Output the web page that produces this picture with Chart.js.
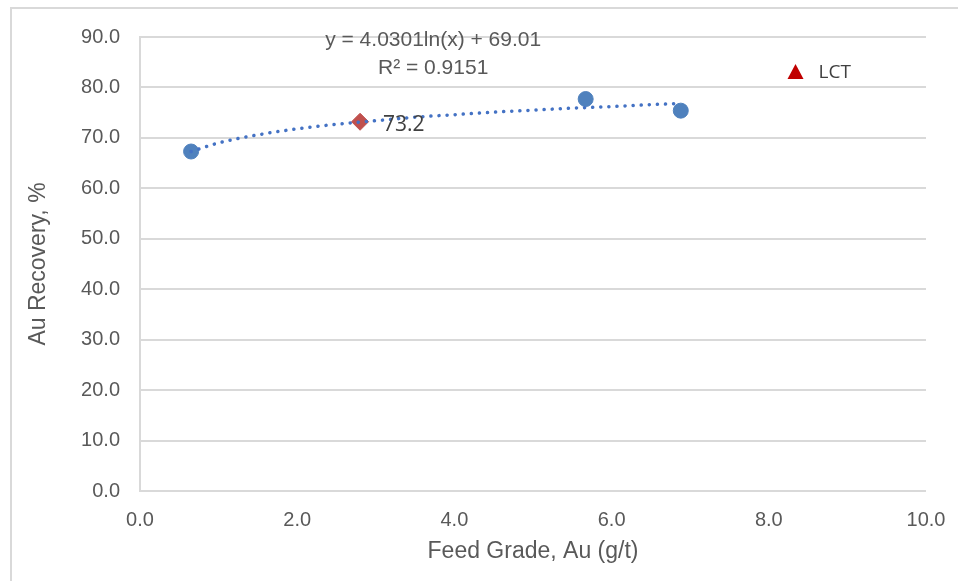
<!DOCTYPE html>
<html lang="en">
<head>
  <meta charset="UTF-8">
  <title>Au Recovery vs Feed Grade</title>
  <script src="https://cdn.jsdelivr.net/npm/chart.js"></script>
  <style>
    body {
      margin: 0;
      background: #ffffff;
    }
    #wrap {
      position: relative;
      width: 958px;
      height: 581px;
      overflow: hidden;
    }
    #frame {
      position: absolute;
      left: 10px;
      top: 7px;
      width: 1000px;
      height: 1000px;
      border-left: 2px solid #d9d9d9;
      border-top: 2px solid #d9d9d9;
    }
    canvas {
      position: absolute;
      left: 0;
      top: 0;
    }
  </style>
</head>
<body>
  <div id="wrap">
    <div id="frame"></div>
    <canvas id="recoveryChart" width="958" height="581"></canvas>
  </div>

  <script>
    // test results (feed grade g/t, recovery %)
    const feedGrade = [0.65, 5.67, 6.88];
    const recovery = [67.3, 77.7, 75.4];

    // highlighted point with label
    const markGrade = [2.8];
    const markRecovery = [73.2];

    // log trendline
    const trendGrade = [0.65, 1.0, 1.5, 2.0, 2.5, 3.0, 3.5, 4.0, 4.5, 5.0, 5.5, 6.0, 6.5, 6.88];
    const trendRecovery = [67.3, 69.0, 70.6, 71.8, 72.7, 73.4, 74.1, 74.6, 75.1, 75.5, 75.9, 76.2, 76.6, 76.8];

    const equationLines = ["y = 4.0301ln(x) + 69.01", "R² = 0.9151"];
    const legendLabel = "LCT";

    const toPoints = (xs, ys) => xs.map((x, i) => ({ x: x, y: ys[i] }));

    // draws equation, the 73.2 label and the LCT legend
    const annotations = {
      id: "annotations",
      afterDatasetsDraw(chart) {
        const ctx = chart.ctx;
        const area = chart.chartArea;
        const w = area.right - area.left;
        ctx.save();

        // trendline equation
        ctx.fillStyle = "#595959";
        ctx.font = "21px 'Liberation Sans', Arial, sans-serif";
        ctx.textAlign = "center";
        ctx.textBaseline = "middle";
        const eqX = area.left + w * 0.373;
        ctx.fillText(equationLines[0], eqX, area.top + 3);
        ctx.fillText(equationLines[1], eqX, area.top + 31);

        // data label next to the diamond
        const pt = chart.getDatasetMeta(1).data[0];
        ctx.fillStyle = "#404040";
        ctx.font = "21px 'Open Sans', sans-serif";
        ctx.textAlign = "left";
        ctx.fillText(markRecovery[0].toFixed(1), pt.x + 23, pt.y + 3);

        // legend
        const lx = area.left + w * 0.834;
        const ly = area.top + 35;
        ctx.fillStyle = "#c00000";
        ctx.beginPath();
        ctx.moveTo(lx, ly - 8);
        ctx.lineTo(lx + 8, ly + 7);
        ctx.lineTo(lx - 8, ly + 7);
        ctx.closePath();
        ctx.fill();
        ctx.fillStyle = "#404040";
        ctx.font = "19px 'Open Sans', sans-serif";
        ctx.fillText(legendLabel, lx + 23, ly + 1);

        ctx.restore();
      }
    };

    const ctx = document.getElementById("recoveryChart").getContext("2d");
    new Chart(ctx, {
      type: "scatter",
      data: {
        datasets: [
          {
            label: "Trend",
            type: "line",
            data: toPoints(trendGrade, trendRecovery),
            borderColor: "#4472c4",
            borderWidth: 3.5,
            borderDash: [0.1, 8],
            borderCapStyle: "round",
            pointRadius: 0,
            cubicInterpolationMode: "monotone",
            fill: false,
            order: 0
          },
          {
            label: "Mark",
            data: toPoints(markGrade, markRecovery),
            pointStyle: "rectRot",
            pointRadius: 8.5,
            backgroundColor: "#c0504d",
            borderColor: "#c0504d",
            order: 1
          },
          {
            label: "Tests",
            data: toPoints(feedGrade, recovery),
            pointStyle: "circle",
            pointRadius: 7.5,
            backgroundColor: "#4f81bd",
            borderColor: "#4f81bd",
            order: 2
          }
        ]
      },
      options: {
        responsive: false,
        animation: false,
        layout: {
          padding: { left: 0, top: 37, right: 32, bottom: 0 }
        },
        plugins: {
          legend: { display: false },
          tooltip: { enabled: false }
        },
        scales: {
          x: {
            type: "linear",
            min: 0,
            max: 10,
            afterFit: (scale) => {
              scale.height = 90;
              scale.paddingLeft = 0;
              scale.paddingRight = 0;
            },
            ticks: {
              stepSize: 2,
              padding: 17,
              color: "#595959",
              font: { family: "'Liberation Sans', Arial, sans-serif", size: 20 },
              callback: (v) => v.toFixed(1)
            },
            grid: { display: false, drawTicks: false },
            border: { display: false },
            title: {
              display: true,
              text: "Feed Grade, Au (g/t)",
              color: "#595959",
              font: { family: "'Liberation Sans', Arial, sans-serif", size: 23 },
              padding: { top: 0, bottom: 16 }
            }
          },
          y: {
            min: 0,
            max: 90,
            afterFit: (scale) => {
              scale.width = 140;
              scale.paddingTop = 0;
              scale.paddingBottom = 0;
            },
            ticks: {
              stepSize: 10,
              padding: 20,
              color: "#595959",
              font: { family: "'Liberation Sans', Arial, sans-serif", size: 20 },
              callback: (v) => v.toFixed(1)
            },
            grid: { color: "#d9d9d9", lineWidth: 2, drawTicks: false },
            border: { display: true, color: "#d9d9d9", width: 2 },
            title: {
              display: true,
              text: "Au Recovery, %",
              color: "#595959",
              font: { family: "'Liberation Sans', Arial, sans-serif", size: 23 },
              padding: { top: 25, bottom: 0 }
            }
          }
        }
      },
      plugins: [annotations]
    });
  </script>
</body>
</html>
